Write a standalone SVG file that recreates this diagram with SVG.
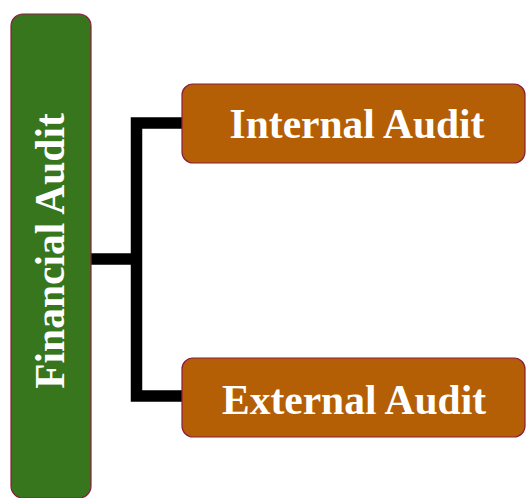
<svg xmlns="http://www.w3.org/2000/svg" width="526" height="498" viewBox="0 0 526 498">
<style>
.box{stroke:#8e1c3c;stroke-width:1.2}
.green{fill:#38761d}
.orange{fill:#b45f06}
.lbl{font-family:"Liberation Serif","Times New Roman",serif;font-weight:bold;font-size:41.5px;fill:#ffffff;text-anchor:middle}
.conn{fill:none;stroke:#000000;stroke-width:11.5;stroke-linejoin:miter}
</style>
<rect width="526" height="498" fill="#ffffff"/>
<g id="connectors">
<path class="conn" d="M183 123 H136.5 V396 H183"/>
<path class="conn" d="M90 259 H136.5"/>
</g>
<g id="node-financial">
<rect class="box green" x="11" y="14" width="80" height="484" rx="12"/>
<text class="lbl" transform="translate(64,251) rotate(-90)" x="0" y="0">Financial Audit</text>
</g>
<g id="node-internal">
<rect class="box orange" x="182" y="84" width="343" height="79" rx="11"/>
<text class="lbl" x="357" y="137.5">Internal Audit</text>
</g>
<g id="node-external">
<rect class="box orange" x="182" y="358" width="343" height="79" rx="11"/>
<text class="lbl" x="354" y="413.5">External Audit</text>
</g>
</svg>
